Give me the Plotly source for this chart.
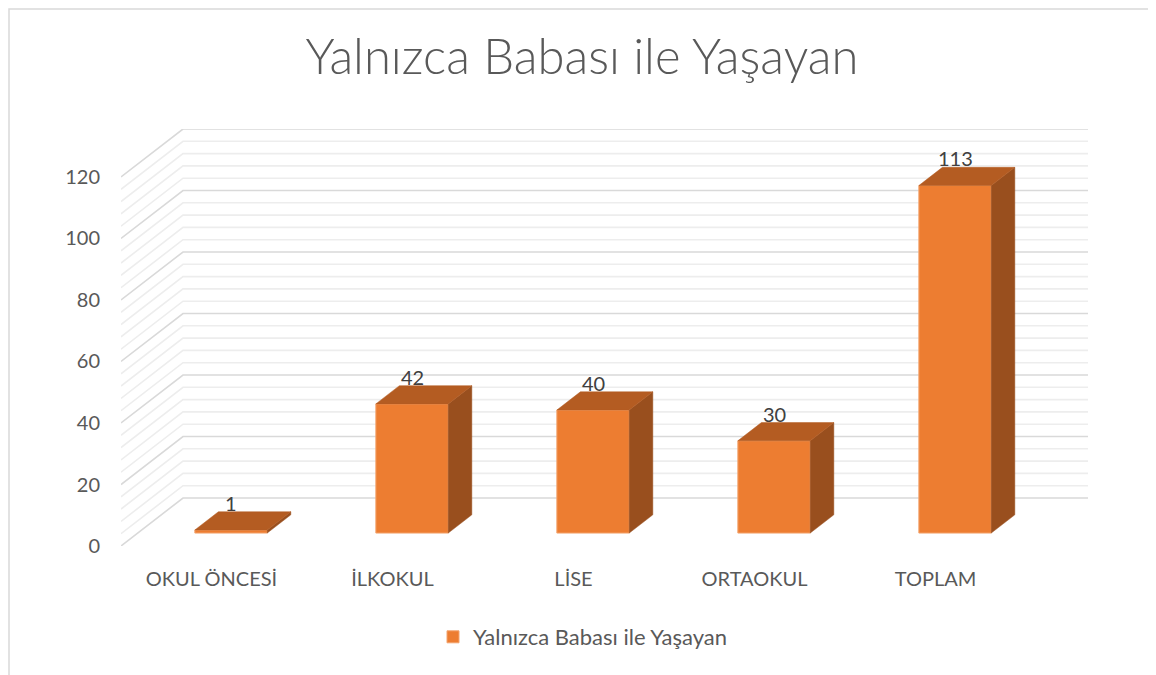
import plotly.graph_objects as go

# ---- data ----
categories = ["OKUL ÖNCESİ", "İLKOKUL", "LİSE", "ORTAOKUL", "TOPLAM"]
values = [1, 42, 40, 30, 113]
series_name = "Yalnızca Babası ile Yaşayan"
title_text = "Yalnızca Babası ile Yaşayan"
y_ticks = [0, 20, 40, 60, 80, 100, 120]
minor_step = 4

# ---- pseudo-3D geometry (in axis units) ----
DEPTH_X = 0.3425      # back-wall shift in category units
DEPTH_Y = 15.6        # back-wall shift in value units
T_FRONT = 0.27        # depth fraction of bar front face
T_BACK = 0.65         # depth fraction of bar back face
FRONT_SHIFT_X = 0.108 # horizontal shift of bar front face
BAR_W = 0.4

FRONT = "#ED7D31"
TOP = "#B45C22"
SIDE = "#994F1E"
MAJOR = "#D9D9D9"
MINOR = "#EDEDED"
FONT = "Lato"

# page offsets (browser body margin = 8px)
OFF = 8
PL, PR, PT, PB = 121, 1088, 129, 546   # plot area in page pixels

fig = go.Figure()

shapes = []
ymax_tick = y_ticks[-1]
x_left = -0.5
x_right = len(categories) - 0.5
v = 0
while v <= ymax_tick:
    col = MAJOR if v % 20 == 0 else MINOR
    path = (f"M {x_left},{v} L {x_left + DEPTH_X},{v + DEPTH_Y} "
            f"L {x_right + DEPTH_X},{v + DEPTH_Y}")
    shapes.append(dict(type="path", path=path, xref="x", yref="y",
                       line=dict(color=col, width=1.6), layer="below"))
    v += minor_step

def px2paper_x(px):
    return (px - PL) / (PR - PL)
def px2paper_y(py):
    return (PB - py) / (PB - PT)
bx, by = 9, 9
shapes.append(dict(type="path", xref="paper", yref="paper",
                   path=(f"M {px2paper_x(bx)},{px2paper_y(680)} "
                         f"L {px2paper_x(bx)},{px2paper_y(by)} "
                         f"L {px2paper_x(1160)},{px2paper_y(by)}"),
                   line=dict(color="#D9D9D9", width=1.5), layer="below"))

fy = T_FRONT * DEPTH_Y
ddx = (T_BACK - T_FRONT) * DEPTH_X
ddy = (T_BACK - T_FRONT) * DEPTH_Y
xs = [i + FRONT_SHIFT_X for i in range(len(categories))]
bases = [fy] * len(values)

fig.add_trace(go.Bar(
    x=xs, y=values, base=bases, width=BAR_W, name=series_name,
    marker=dict(color=FRONT, line=dict(color="#F3A46E", width=1)),
    showlegend=True, hoverinfo="skip"))

top_x, top_y, side_x, side_y = [], [], [], []
for xc, b, val in zip(xs, bases, values):
    xl, xr = xc - BAR_W / 2, xc + BAR_W / 2
    t = b + val
    top_x += [xl, xr, xr + ddx, xl + ddx, xl, None]
    top_y += [t, t, t + ddy, t + ddy, t, None]
    side_x += [xr, xr, xr + ddx, xr + ddx, xr, None]
    side_y += [b, t, t + ddy, b + ddy, b, None]

fig.add_trace(go.Scatter(x=side_x, y=side_y, mode="lines", fill="toself",
                         fillcolor=SIDE, line=dict(color=SIDE, width=0.5),
                         showlegend=False, hoverinfo="skip"))
fig.add_trace(go.Scatter(x=top_x, y=top_y, mode="lines", fill="toself",
                         fillcolor=TOP, line=dict(color=TOP, width=0.5),
                         showlegend=False, hoverinfo="skip"))

annotations = []
for xc, b, val in zip(xs, bases, values):
    annotations.append(dict(x=xc, y=b + val + ddy, xref="x", yref="y",
                            text=str(val), showarrow=False, yanchor="bottom",
                            yshift=-5, font=dict(family=FONT, size=20, color="#404040")))

W, H = 1156 - OFF, 675 - OFF
fig.update_layout(
    width=W, height=H,
    margin=dict(l=PL - OFF, r=1156 - PR, t=PT - OFF, b=675 - PB),
    paper_bgcolor="white", plot_bgcolor="white",
    title=dict(text=title_text, x=(582 - OFF) / W, xanchor="center", xref="container",
               y=1 - (57 - OFF) / H, yanchor="middle", yref="container",
               font=dict(family=FONT, size=49, color="#595959", weight=300)),
    xaxis=dict(range=[x_left, x_right + DEPTH_X], tickvals=list(range(len(categories))),
               ticktext=categories, showgrid=False, zeroline=False, showline=False,
               ticks="outside", ticklen=15, tickcolor="rgba(0,0,0,0)",
               tickfont=dict(family=FONT, size=20, color="#595959")),
    yaxis=dict(range=[0, ymax_tick + DEPTH_Y], tickvals=y_ticks, showgrid=False,
               zeroline=False, showline=False, ticks="outside", ticklen=16,
               tickcolor="rgba(0,0,0,0)",
               tickfont=dict(family=FONT, size=20, color="#595959")),
    legend=dict(orientation="h", x=px2paper_x(583), xanchor="center",
                y=px2paper_y(637), yanchor="middle",
                font=dict(family=FONT, size=22, color="#595959")),
    shapes=shapes, annotations=annotations, showlegend=True,
)

fig.write_html("out.html")
